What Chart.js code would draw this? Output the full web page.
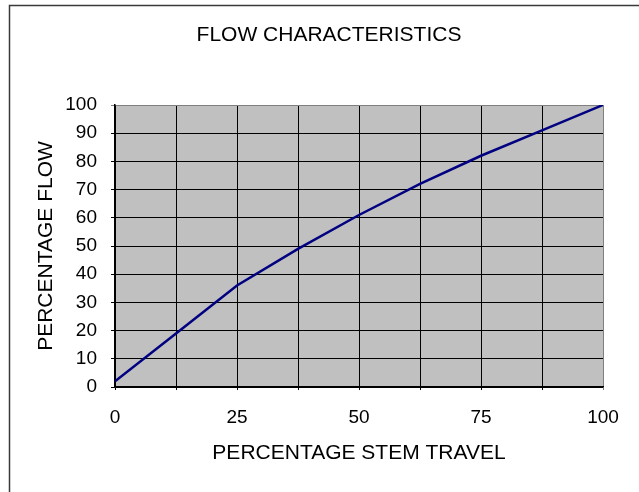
<!DOCTYPE html>
<html>
<head>
<meta charset="utf-8">
<script src="https://cdn.jsdelivr.net/npm/chart.js@4/dist/chart.umd.min.js"></script>
<style>
  html, body { margin: 0; padding: 0; background: #fff; }
  #wrap { position: relative; width: 639px; height: 492px; }
</style>
</head>
<body>
<div id="wrap"><canvas id="flow-chart"></canvas></div>
<script>
const chartTitle = "FLOW CHARACTERISTICS";
const xTitle = "PERCENTAGE STEM TRAVEL";
const yTitle = "PERCENTAGE FLOW";

const stemTravel = [0, 12.5, 25, 37.5, 50, 62.5, 75, 87.5, 100];
const flowPct = [2, 19, 36, 49, 61, 72, 82, 91, 100];

const FONT = "'Liberation Sans', Arial, sans-serif";

// grey plot background, outer frame and the title
const backdrop = {
  id: "backdrop",
  beforeDraw(chart) {
    const { ctx, chartArea } = chart;
    ctx.save();
    ctx.fillStyle = "#c0c0c0";
    ctx.fillRect(chartArea.left, chartArea.top, chartArea.right - chartArea.left, chartArea.bottom - chartArea.top);
    ctx.strokeStyle = "#3a3a3a";
    ctx.lineWidth = 1.5;
    ctx.beginPath();
    ctx.moveTo(9.5, 500);
    ctx.lineTo(9.5, 5.5);
    ctx.lineTo(650, 5.5);
    ctx.stroke();
    ctx.fillStyle = "#000";
    ctx.font = `21px ${FONT}`;
    ctx.textAlign = "center";
    ctx.textBaseline = "alphabetic";
    ctx.fillText(chartTitle, 329, 41);
    ctx.restore();
  },
};

const edgeGrey = (ctx) => (ctx.tick && ctx.tick.value === 100 ? "#808080" : "#000");

new Chart(document.getElementById("flow-chart"), {
  type: "line",
  data: {
    datasets: [
      {
        data: stemTravel.map((x, i) => ({ x, y: flowPct[i] })),
        borderColor: "#000080",
        borderWidth: 2.5,
        pointRadius: 0,
        tension: 0,
        fill: false,
      },
    ],
  },
  options: {
    responsive: true,
    maintainAspectRatio: false,
    animation: false,
    layout: { padding: { left: 0, top: 105, right: 36, bottom: 0 } },
    plugins: {
      legend: { display: false },
      tooltip: { enabled: false },
      title: { display: false },
    },
    scales: {
      x: {
        type: "linear",
        min: 0,
        max: 100,
        afterFit: (scale) => { scale.height = 105; },
        ticks: {
          stepSize: 12.5,
          color: "#000",
          font: { family: FONT, size: 19 },
          padding: 16,
          maxRotation: 0,
          autoSkip: false,
          callback: (v) => (v % 25 === 0 ? v : ""),
        },
        grid: { color: edgeGrey, lineWidth: 1, tickLength: 3 },
        border: { color: "#000", width: 1.5 },
        title: {
          display: true,
          text: xTitle,
          color: "#000",
          font: { family: FONT, size: 21 },
          padding: { top: 0, bottom: 26 },
        },
      },
      y: {
        min: 0,
        max: 100,
        afterFit: (scale) => { scale.width = 115; },
        ticks: {
          stepSize: 10,
          color: "#000",
          font: { family: FONT, size: 19 },
          padding: 14,
        },
        grid: { color: edgeGrey, lineWidth: 1, tickLength: 4 },
        border: { color: "#000", width: 1.5 },
        title: {
          display: true,
          text: yTitle,
          color: "#000",
          font: { family: FONT, size: 21 },
          padding: { top: 34, bottom: 0 },
        },
      },
    },
  },
  plugins: [backdrop],
});
</script>
</body>
</html>
